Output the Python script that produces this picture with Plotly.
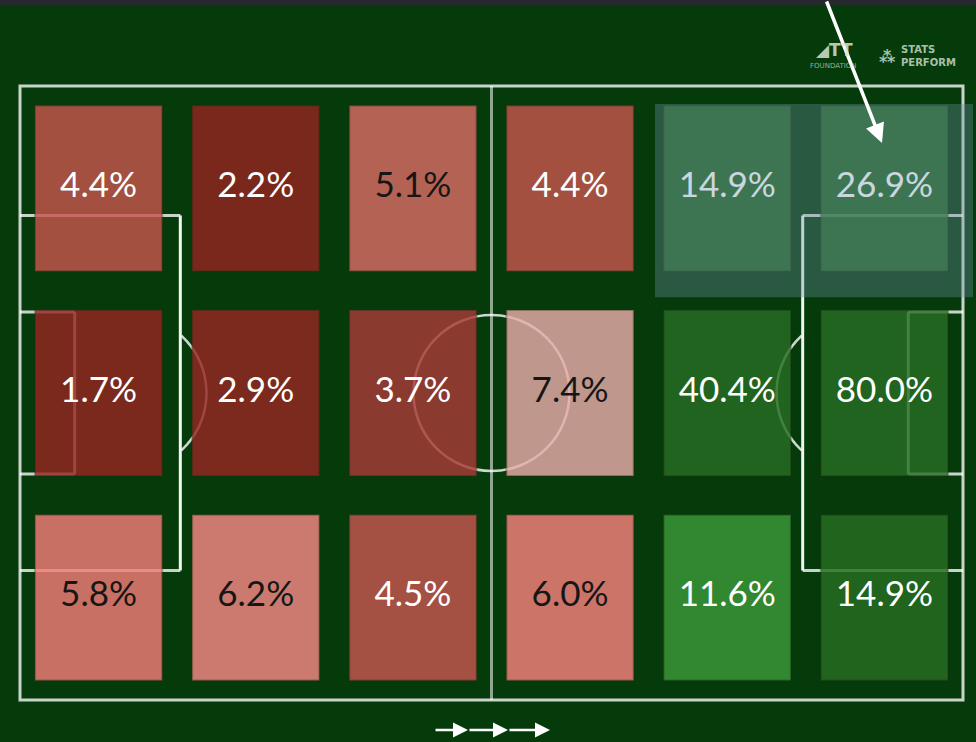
import numpy as np
import plotly.graph_objects as go

# ---- data ----
values = [
    [4.4, 2.2, 5.1, 4.4, 14.9, 26.9],
    [1.7, 2.9, 3.7, 7.4, 40.4, 80.0],
    [5.8, 6.2, 4.5, 6.0, 11.6, 14.9],
]
cell_colors = [
    ["#a35042", "#7a291c", "#b46254", "#a35042", "#236724", "#236724"],
    ["#7b2a1e", "#7c2b1e", "#8b3a2e", "#c0988c", "#226520", "#226520"],
    ["#c87064", "#cc7a70", "#a45244", "#cc7468", "#328831", "#20641e"],
]
text_colors = [
    ["#ffffff", "#ffffff", "#161616", "#ffffff", "#ffffff", "#ffffff"],
    ["#ffffff", "#ffffff", "#ffffff", "#161616", "#ffffff", "#ffffff"],
    ["#161616", "#161616", "#ffffff", "#161616", "#ffffff", "#ffffff"],
]
highlight_cells = [(0, 4), (0, 5)]  # (row, col) of the highlighted zone

BG = "#053b0a"
W, H = 976, 742
# pixel placement of the pitch (0..100 x 0..100 Opta coordinates)
px_l, px_r, px_t, px_b = 20, 963, 86, 700
sx = (px_r - px_l) / 100.0
sy = (px_b - px_t) / 100.0
xr = [-px_l / sx, (W - px_l) / sx]
yr = [-(H - px_b) / sy, 100 + px_t / sy]

ALPHA = 0.82
bg_rgb = np.array([5, 59, 10])


def hex2rgb(h):
    h = h.lstrip("#")
    return np.array([int(h[i:i + 2], 16) for i in (0, 2, 4)])


def under_color(obs):
    c = (hex2rgb(obs) - (1 - ALPHA) * bg_rgb) / ALPHA
    c = np.clip(np.round(c), 0, 255).astype(int)
    return "rgb(%d,%d,%d)" % tuple(c)


shapes = []
LINE = dict(color="rgba(255,255,255,0.78)", width=3)

def seg(x0, y0, x1, y1, line=LINE):
    shapes.append(dict(type="line", xref="x", yref="y", x0=x0, y0=y0, x1=x1, y1=y1,
                       line=line, layer="below"))

# outer boundary
shapes.append(dict(type="rect", xref="x", yref="y", x0=0, y0=0, x1=100, y1=100,
                   line=LINE, fillcolor="rgba(0,0,0,0)", layer="below"))
# halfway line
seg(50, 0, 50, 100, dict(color="rgba(255,255,255,0.55)", width=3))
# penalty boxes and six-yard boxes
pb_y0, pb_y1 = 21.1, 78.9
sb_y0, sb_y1 = 36.8, 63.2
for x_edge, pb_x, sb_x in [(0, 17.0, 5.8), (100, 83.0, 94.2)]:
    seg(x_edge, pb_y1, pb_x, pb_y1)
    seg(pb_x, pb_y1, pb_x, pb_y0, dict(color="rgba(255,255,255,0.95)", width=3))
    seg(pb_x, pb_y0, x_edge, pb_y0)
    seg(x_edge, sb_y1, sb_x, sb_y1)
    seg(sb_x, sb_y1, sb_x, sb_y0)
    seg(sb_x, sb_y0, x_edge, sb_y0)

# centre circle (circular in pixels)
r_px = 78
shapes.append(dict(type="circle", xref="x", yref="y",
                   x0=50 - r_px / sx, x1=50 + r_px / sx,
                   y0=50 - r_px / sy, y1=50 + r_px / sy,
                   line=dict(color="rgba(255,255,255,0.8)", width=2.5), layer="below"))

# penalty arcs
for spot, side in [(11.5, 1), (88.5, -1)]:
    pts = []
    for t in np.linspace(-np.pi / 2, np.pi / 2, 60):
        xpx = side * r_px * np.cos(t)
        ypx = r_px * np.sin(t)
        x = spot + xpx / sx
        if (side == 1 and x >= 17.0) or (side == -1 and x <= 83.0):
            pts.append((x, 50 + ypx / sy))
    path = "M " + " L ".join("%.3f,%.3f" % p for p in pts)
    shapes.append(dict(type="path", xref="x", yref="y", path=path,
                       line=dict(color="rgba(255,255,255,0.8)", width=2.5), layer="below"))

# cells
ncols, nrows = 6, 3
bw, bh = 100.0 / ncols, 100.0 / nrows
fac = 0.81
cx_list, cy_list, txt, tcol = [], [], [], []
for r in range(nrows):
    for c in range(ncols):
        cx = (c + 0.5) * bw
        cy = 100 - (r + 0.5) * bh
        shapes.append(dict(type="rect", xref="x", yref="y",
                           x0=cx - fac * bw / 2, x1=cx + fac * bw / 2,
                           y0=cy - fac * bh / 2, y1=cy + fac * bh / 2,
                           fillcolor=under_color(cell_colors[r][c]),
                           line=dict(color="rgba(40,40,20,0.35)", width=2),
                           opacity=ALPHA, layer="below"))
        cx_list.append(cx)
        cy_list.append(cy)
        txt.append("%.1f%%" % values[r][c])
        tcol.append(text_colors[r][c])

# highlight zone overlay (above text)
hx0 = min(c for _, c in highlight_cells) * bw
hx1 = (max(c for _, c in highlight_cells) + 1) * bw
hy1 = 100 - min(r for r, _ in highlight_cells) * bh
hy0 = 100 - (max(r for r, _ in highlight_cells) + 1) * bh
shapes.append(dict(type="rect", xref="x", yref="y",
                   x0=hx0 + (655 - 648.7) / sx, x1=hx1 + (973 - 963) / sx,
                   y0=hy0 - (297 - 290.3) / sy, y1=hy1 - (104 - 86) / sy,
                   fillcolor="rgba(108,145,166,0.36)", line=dict(width=0), layer="above"))

# dark strip at very top
shapes.append(dict(type="rect", xref="paper", yref="paper", x0=0, x1=1,
                   y0=1 - 5 / H, y1=1, fillcolor="#27292e", line=dict(width=0), layer="above"))

fig = go.Figure()
fig.add_trace(go.Scatter(
    x=cx_list, y=cy_list, mode="text", text=txt,
    textfont=dict(family="Lato", size=35, color=tcol),
    textposition="middle center", hoverinfo="skip", showlegend=False))

annotations = []
# pointer arrow to highlighted zone
tip_x, tip_y = (882 - px_l) / sx, (px_b - 143) / sy
annotations.append(dict(x=tip_x, y=tip_y, xref="x", yref="y", text="", showarrow=True,
                        ax=-56, ay=-148, arrowhead=2, arrowsize=1.1, arrowwidth=3.5,
                        arrowcolor="white"))
# attacking direction arrows
ay_d = (px_b - 730) / sy
for tip_px, tail_px in [(468, 434), (508, 468), (550, 508)]:
    annotations.append(dict(x=(tip_px - px_l) / sx, y=ay_d, xref="x", yref="y", text="",
                            showarrow=True, ax=tail_px - tip_px, ay=0, arrowhead=2,
                            arrowsize=1.2, arrowwidth=2.5, arrowcolor="white"))
# logos (approximate)
annotations.append(dict(x=(834 - px_l) / sx, y=(px_b - 50) / sy, xref="x", yref="y",
                        text="<b>◢TT</b>", showarrow=False,
                        font=dict(family="DejaVu Sans", size=17, color="rgba(215,228,215,0.85)")))
annotations.append(dict(x=(833 - px_l) / sx, y=(px_b - 66) / sy, xref="x", yref="y",
                        text="FOUNDATION", showarrow=False,
                        font=dict(family="DejaVu Sans", size=7, color="rgba(215,228,215,0.7)")))
annotations.append(dict(x=(887 - px_l) / sx, y=(px_b - 56) / sy, xref="x", yref="y",
                        text="<b>⁂</b>", showarrow=False,
                        font=dict(family="DejaVu Sans", size=16, color="rgba(215,228,215,0.8)")))
annotations.append(dict(x=(928 - px_l) / sx, y=(px_b - 56) / sy, xref="x", yref="y",
                        text="<b>STATS<br>PERFORM</b>", showarrow=False, align="left",
                        font=dict(family="DejaVu Sans", size=10, color="rgba(215,228,215,0.8)")))

fig.update_layout(
    width=W, height=H, margin=dict(l=0, r=0, t=0, b=0),
    paper_bgcolor=BG, plot_bgcolor=BG,
    xaxis=dict(range=xr, visible=False, fixedrange=True),
    yaxis=dict(range=yr, visible=False, fixedrange=True),
    shapes=shapes, annotations=annotations, showlegend=False,
)
fig.write_html("out.html", config={"displayModeBar": False},
               post_script="document.body.style.margin='0';document.body.style.background='%s';" % BG)
